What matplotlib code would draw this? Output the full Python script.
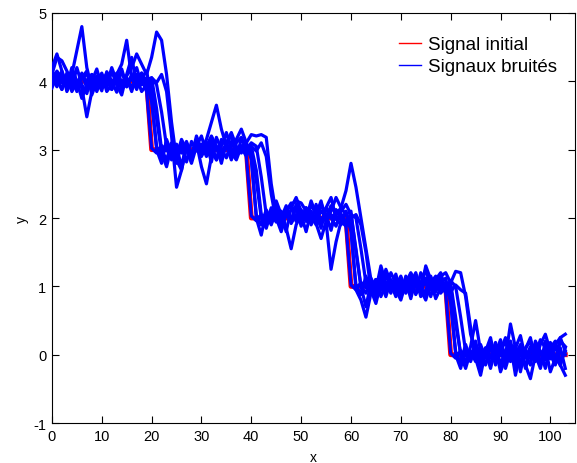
import numpy as np
import matplotlib
matplotlib.use("Agg")
import matplotlib.pyplot as plt
from matplotlib.lines import Line2D

plt.rcParams['font.family'] = ['Liberation Sans', 'DejaVu Sans']
plt.rcParams['axes.unicode_minus'] = False

# Noise-free staircase signal
signal_initial = [
    4, 4, 4, 4, 4, 4, 4, 4, 4, 4,
    4, 4, 4, 4, 4, 4, 4, 4, 4, 4,
    3, 3, 3, 3, 3, 3, 3, 3, 3, 3,
    3, 3, 3, 3, 3, 3, 3, 3, 3, 3,
    2, 2, 2, 2, 2, 2, 2, 2, 2, 2,
    2, 2, 2, 2, 2, 2, 2, 2, 2, 2,
    1, 1, 1, 1, 1, 1, 1, 1, 1, 1,
    1, 1, 1, 1, 1, 1, 1, 1, 1, 1,
    0, 0, 0, 0, 0, 0, 0, 0, 0, 0,
    0, 0, 0, 0, 0, 0, 0, 0, 0, 0,
    0, 0, 0, 0,
]

# Noisy / delayed versions of the signal
bruit_1 = [
    4.02, 3.95, 4.08, 3.97, 4.05, 3.92, 4.10, 4.00, 3.94, 4.06,
    3.98, 4.04, 3.93, 4.07, 4.01, 3.96, 4.09, 3.99, 4.03, 3.85,
    3.02, 2.95, 3.06, 2.98, 3.04, 2.93, 3.08, 3.00, 2.96, 3.05,
    2.99, 3.07, 2.94, 3.03, 2.98, 3.06, 2.95, 3.02, 3.04, 2.90,
    2.03, 1.96, 2.05, 1.98, 2.07, 1.94, 2.02, 2.06, 1.97, 2.04,
    1.99, 2.08, 1.95, 2.03, 2.00, 1.96, 2.05, 1.98, 2.06, 1.88,
    1.02, 0.95, 1.06, 0.98, 1.04, 0.93, 1.07, 1.00, 0.96, 1.05,
    0.99, 1.06, 0.94, 1.03, 0.98, 1.07, 0.95, 1.02, 1.04, 0.90,
    0.02, -0.05, 0.06, -0.02, 0.04, -0.07, 0.05, 0.00, -0.04, 0.07,
    -0.01, 0.05, -0.06, 0.03, -0.02, 0.06, -0.05, 0.02, 0.04, -0.03,
    0.05, -0.02, 0.03, 0.00,
]
bruit_2 = [
    4.15, 4.05, 3.88, 4.12, 3.90, 4.20, 3.95, 3.82, 4.10, 4.02,
    3.86, 4.14, 4.00, 3.84, 4.18, 3.92, 4.06, 3.88, 4.12, 3.98,
    3.70, 3.05, 2.88, 3.12, 2.95, 2.80, 3.10, 3.02, 2.86, 3.15,
    2.92, 3.08, 2.82, 3.18, 3.00, 2.88, 3.12, 2.95, 3.05, 3.10,
    2.85, 2.05, 1.90, 2.12, 1.95, 2.18, 1.85, 2.08, 1.98, 2.15,
    1.88, 2.10, 1.95, 2.20, 1.92, 2.05, 1.82, 2.12, 1.98, 2.08,
    1.80, 1.02, 0.88, 1.15, 0.92, 1.10, 0.85, 1.05, 0.95, 1.18,
    0.90, 1.08, 0.82, 1.12, 0.98, 0.88, 1.15, 0.94, 1.06, 1.12,
    0.75, 0.05, -0.12, 0.15, -0.08, 0.10, -0.20, 0.08, -0.05, 0.18,
    -0.15, 0.06, 0.20, -0.10, 0.12, -0.18, 0.04, 0.16, -0.12, 0.08,
    -0.06, 0.14, -0.16, 0.10,
]
bruit_3 = [
    3.90, 4.10, 3.98, 4.05, 4.10, 4.45, 4.80, 4.20, 3.90, 4.08,
    3.95, 4.12, 3.88, 4.02, 4.15, 3.92, 4.05, 4.20, 3.95, 4.02,
    4.05, 3.60, 3.00, 2.85, 3.10, 2.95, 3.05, 2.82, 3.12, 2.98,
    3.08, 2.90, 3.15, 3.02, 2.88, 3.10, 3.20, 2.95, 3.05, 2.98,
    3.05, 2.70, 2.05, 1.92, 2.15, 2.02, 1.90, 2.10, 2.22, 1.95,
    2.12, 1.98, 2.25, 2.05, 1.92, 2.15, 2.00, 1.88, 2.10, 2.20,
    2.05, 1.55, 1.00, 0.90, 1.12, 0.98, 1.20, 0.92, 1.08, 1.00,
    1.15, 0.95, 1.10, 0.88, 1.05, 1.25, 0.98, 1.12, 0.92, 1.05,
    1.00, 0.45, 0.02, -0.10, 0.12, 0.50, 0.05, -0.15, 0.10, 0.02,
    0.22, -0.05, 0.45, 0.10, -0.12, 0.08, 0.25, -0.08, 0.15, 0.30,
    0.05, -0.10, 0.20, 0.12,
]
bruit_4 = [
    4.05, 3.92, 4.15, 3.85, 4.02, 3.95, 4.12, 3.90, 4.00, 4.18,
    3.92, 4.05, 3.88, 4.10, 4.25, 4.60, 4.05, 3.90, 4.12, 3.98,
    4.05, 3.95, 3.55, 3.05, 2.85, 3.08, 2.95, 3.12, 2.90, 3.05,
    2.95, 3.10, 3.00, 2.85, 3.15, 3.05, 2.92, 3.10, 3.18, 3.00,
    3.10, 3.05, 2.60, 2.05, 1.90, 2.10, 2.00, 2.18, 1.92, 2.05,
    1.95, 2.15, 2.05, 1.90, 2.22, 2.00, 1.85, 2.12, 2.05, 1.95,
    2.05, 2.00, 1.55, 1.05, 0.92, 1.10, 0.95, 1.15, 1.02, 0.88,
    1.08, 0.95, 1.18, 1.00, 0.90, 1.12, 1.05, 0.92, 1.10, 1.00,
    1.08, 1.00, 0.55, 0.05, -0.10, 0.15, -0.05, 0.10, -0.15, 0.05,
    0.15, -0.10, 0.08, -0.20, 0.12, 0.00, -0.15, 0.20, 0.05, -0.08,
    0.18, -0.05, 0.10, -0.20,
]
bruit_5 = [
    4.10, 4.35, 4.30, 4.15, 4.00, 3.95, 4.05, 4.10, 4.00, 3.92,
    4.02, 4.10, 3.98, 4.05, 3.95, 4.08, 4.20, 4.40, 4.25, 4.10,
    4.35, 4.72, 4.60, 4.10, 3.40, 2.85, 2.70, 3.05, 2.95, 3.10,
    2.90, 3.05, 3.20, 3.05, 2.92, 3.10, 3.25, 3.05, 2.95, 3.10,
    3.22, 3.20, 3.22, 3.18, 2.50, 2.05, 1.95, 2.10, 2.20, 2.25,
    2.22, 2.10, 2.05, 1.95, 2.10, 2.02, 2.18, 2.05, 2.15, 2.40,
    2.80, 2.45, 2.00, 1.55, 1.10, 0.95, 1.30, 1.05, 0.90, 1.10,
    0.95, 1.05, 1.20, 1.05, 0.92, 1.30, 1.10, 1.00, 1.15, 1.20,
    1.05, 1.22, 1.20, 0.85, 0.30, 0.05, -0.10, 0.10, -0.05, 0.15,
    0.05, 0.20, -0.08, 0.10, 0.28, -0.05, 0.12, 0.00, 0.22, 0.10,
    -0.05, 0.15, 0.25, 0.05,
]
bruit_6 = [
    3.95, 4.02, 3.88, 4.08, 3.85, 3.98, 3.90, 3.48, 3.85, 4.02,
    4.10, 3.85, 3.95, 4.12, 3.88, 4.02, 3.92, 4.05, 3.85, 3.95,
    4.05, 3.98, 4.10, 3.85, 3.20, 2.45, 2.70, 3.05, 2.85, 3.10,
    2.75, 2.50, 2.90, 3.05, 2.80, 3.10, 2.95, 2.85, 3.05, 2.92,
    3.05, 2.98, 3.10, 2.90, 2.35, 1.95, 2.10, 1.85, 1.55, 1.90,
    2.05, 1.80, 2.10, 1.92, 1.70, 1.95, 1.25, 1.65, 1.95, 1.88,
    2.00, 2.05, 1.90, 1.50, 0.95, 0.75, 1.05, 0.85, 1.10, 0.95,
    0.80, 1.05, 0.90, 1.15, 0.85, 0.95, 1.08, 0.82, 0.98, 1.05,
    0.92, 1.02, 0.95, 0.90, 0.40, -0.05, -0.30, 0.05, -0.20, 0.10,
    -0.25, -0.05, 0.15, -0.30, 0.05, -0.15, -0.35, 0.00, -0.20, 0.10,
    -0.25, -0.05, -0.15, -0.30,
]
bruit_7 = [
    4.20, 4.40, 4.15, 3.95, 4.10, 3.85, 4.05, 4.15, 3.80, 4.00,
    4.12, 3.90, 4.15, 3.95, 3.80, 4.10, 4.35, 3.95, 4.05, 4.15,
    3.75, 3.00, 2.80, 3.15, 2.95, 3.05, 2.75, 3.10, 2.90, 3.20,
    3.00, 3.15, 3.40, 3.65, 3.30, 3.05, 2.85, 3.15, 3.30, 3.10,
    2.90, 2.00, 1.75, 2.10, 1.95, 2.25, 2.05, 1.80, 2.15, 2.30,
    2.10, 1.95, 2.20, 2.05, 1.85, 2.15, 2.30, 2.00, 1.90, 2.10,
    1.85, 0.95, 0.80, 0.55, 0.90, 1.10, 0.95, 1.25, 1.05, 0.85,
    1.10, 0.90, 1.05, 1.20, 0.95, 0.80, 1.05, 1.15, 0.90, 1.00,
    0.80, 0.00, -0.20, 0.10, -0.05, 0.20, -0.15, 0.05, 0.25, -0.10,
    0.10, -0.20, 0.05, 0.15, -0.25, 0.10, 0.20, -0.10, 0.05, -0.20,
    0.10, 0.20, -0.10, 0.05,
]
bruit_8 = [
    4.00, 4.15, 4.05, 3.92, 4.20, 4.00, 3.75, 3.95, 4.10, 3.85,
    4.05, 3.95, 4.20, 4.00, 3.90, 4.05, 3.85, 4.10, 3.95, 4.05,
    3.95, 3.45, 2.95, 2.75, 3.05, 2.90, 3.15, 3.00, 2.80, 3.05,
    3.20, 2.95, 3.10, 2.85, 3.05, 3.25, 3.00, 2.90, 3.15, 3.05,
    3.00, 2.55, 2.00, 1.85, 2.10, 2.00, 1.80, 2.05, 1.95, 2.20,
    2.00, 2.15, 1.90, 2.05, 2.25, 1.95, 2.10, 2.30, 2.15, 2.05,
    2.10, 1.50, 1.00, 0.70, 1.05, 0.85, 1.15, 0.95, 1.20, 1.05,
    0.85, 1.15, 1.00, 0.90, 1.20, 1.05, 0.85, 1.10, 1.20, 0.95,
    1.05, 0.55, 0.00, -0.20, 0.05, -0.10, 0.15, -0.05, 0.20, -0.15,
    0.05, 0.25, -0.10, 0.00, 0.15, -0.20, 0.05, 0.10, -0.15, 0.20,
    0.00, -0.15, 0.25, 0.30,
]
signaux_bruites = [bruit_1, bruit_2, bruit_3, bruit_4,
                   bruit_5, bruit_6, bruit_7, bruit_8]

x_ticks = [0, 10, 20, 30, 40, 50, 60, 70, 80, 90, 100]
y_ticks = [-1, 0, 1, 2, 3, 4, 5]

fig = plt.figure(figsize=(5.77, 4.64), dpi=100)
ax = fig.add_axes([0.090, 0.086, 0.907, 0.884])

ax.plot(np.arange(len(signal_initial)), signal_initial,
        color='#ff0000', lw=3.5, zorder=2)
for s in signaux_bruites:
    ax.plot(np.arange(len(s)), s, color='#0000ff', lw=2.3, zorder=3)

ax.set_xlim(0, 105)
ax.set_ylim(-1, 5)
ax.set_xticks(x_ticks)
ax.set_yticks(y_ticks)
ax.tick_params(direction='in', top=True, right=True, length=5,
               width=0.8, labelsize=10.5, pad=4)
for sp in ax.spines.values():
    sp.set_linewidth(0.8)
ax.set_xlabel('x', fontsize=10, labelpad=5)
ax.set_ylabel('y', fontsize=10, labelpad=3)

handles = [Line2D([], [], color='#ff0000', lw=1.0),
           Line2D([], [], color='#0000ff', lw=1.0)]
ax.legend(handles, ['Signal initial', 'Signaux bruités'],
          loc='upper left', bbox_to_anchor=(0.664, 0.943),
          frameon=False, fontsize=13.5, handlelength=1.15,
          handletextpad=0.35, labelspacing=0.26, borderpad=0,
          borderaxespad=0)

fig.savefig('out.png', dpi=100)
